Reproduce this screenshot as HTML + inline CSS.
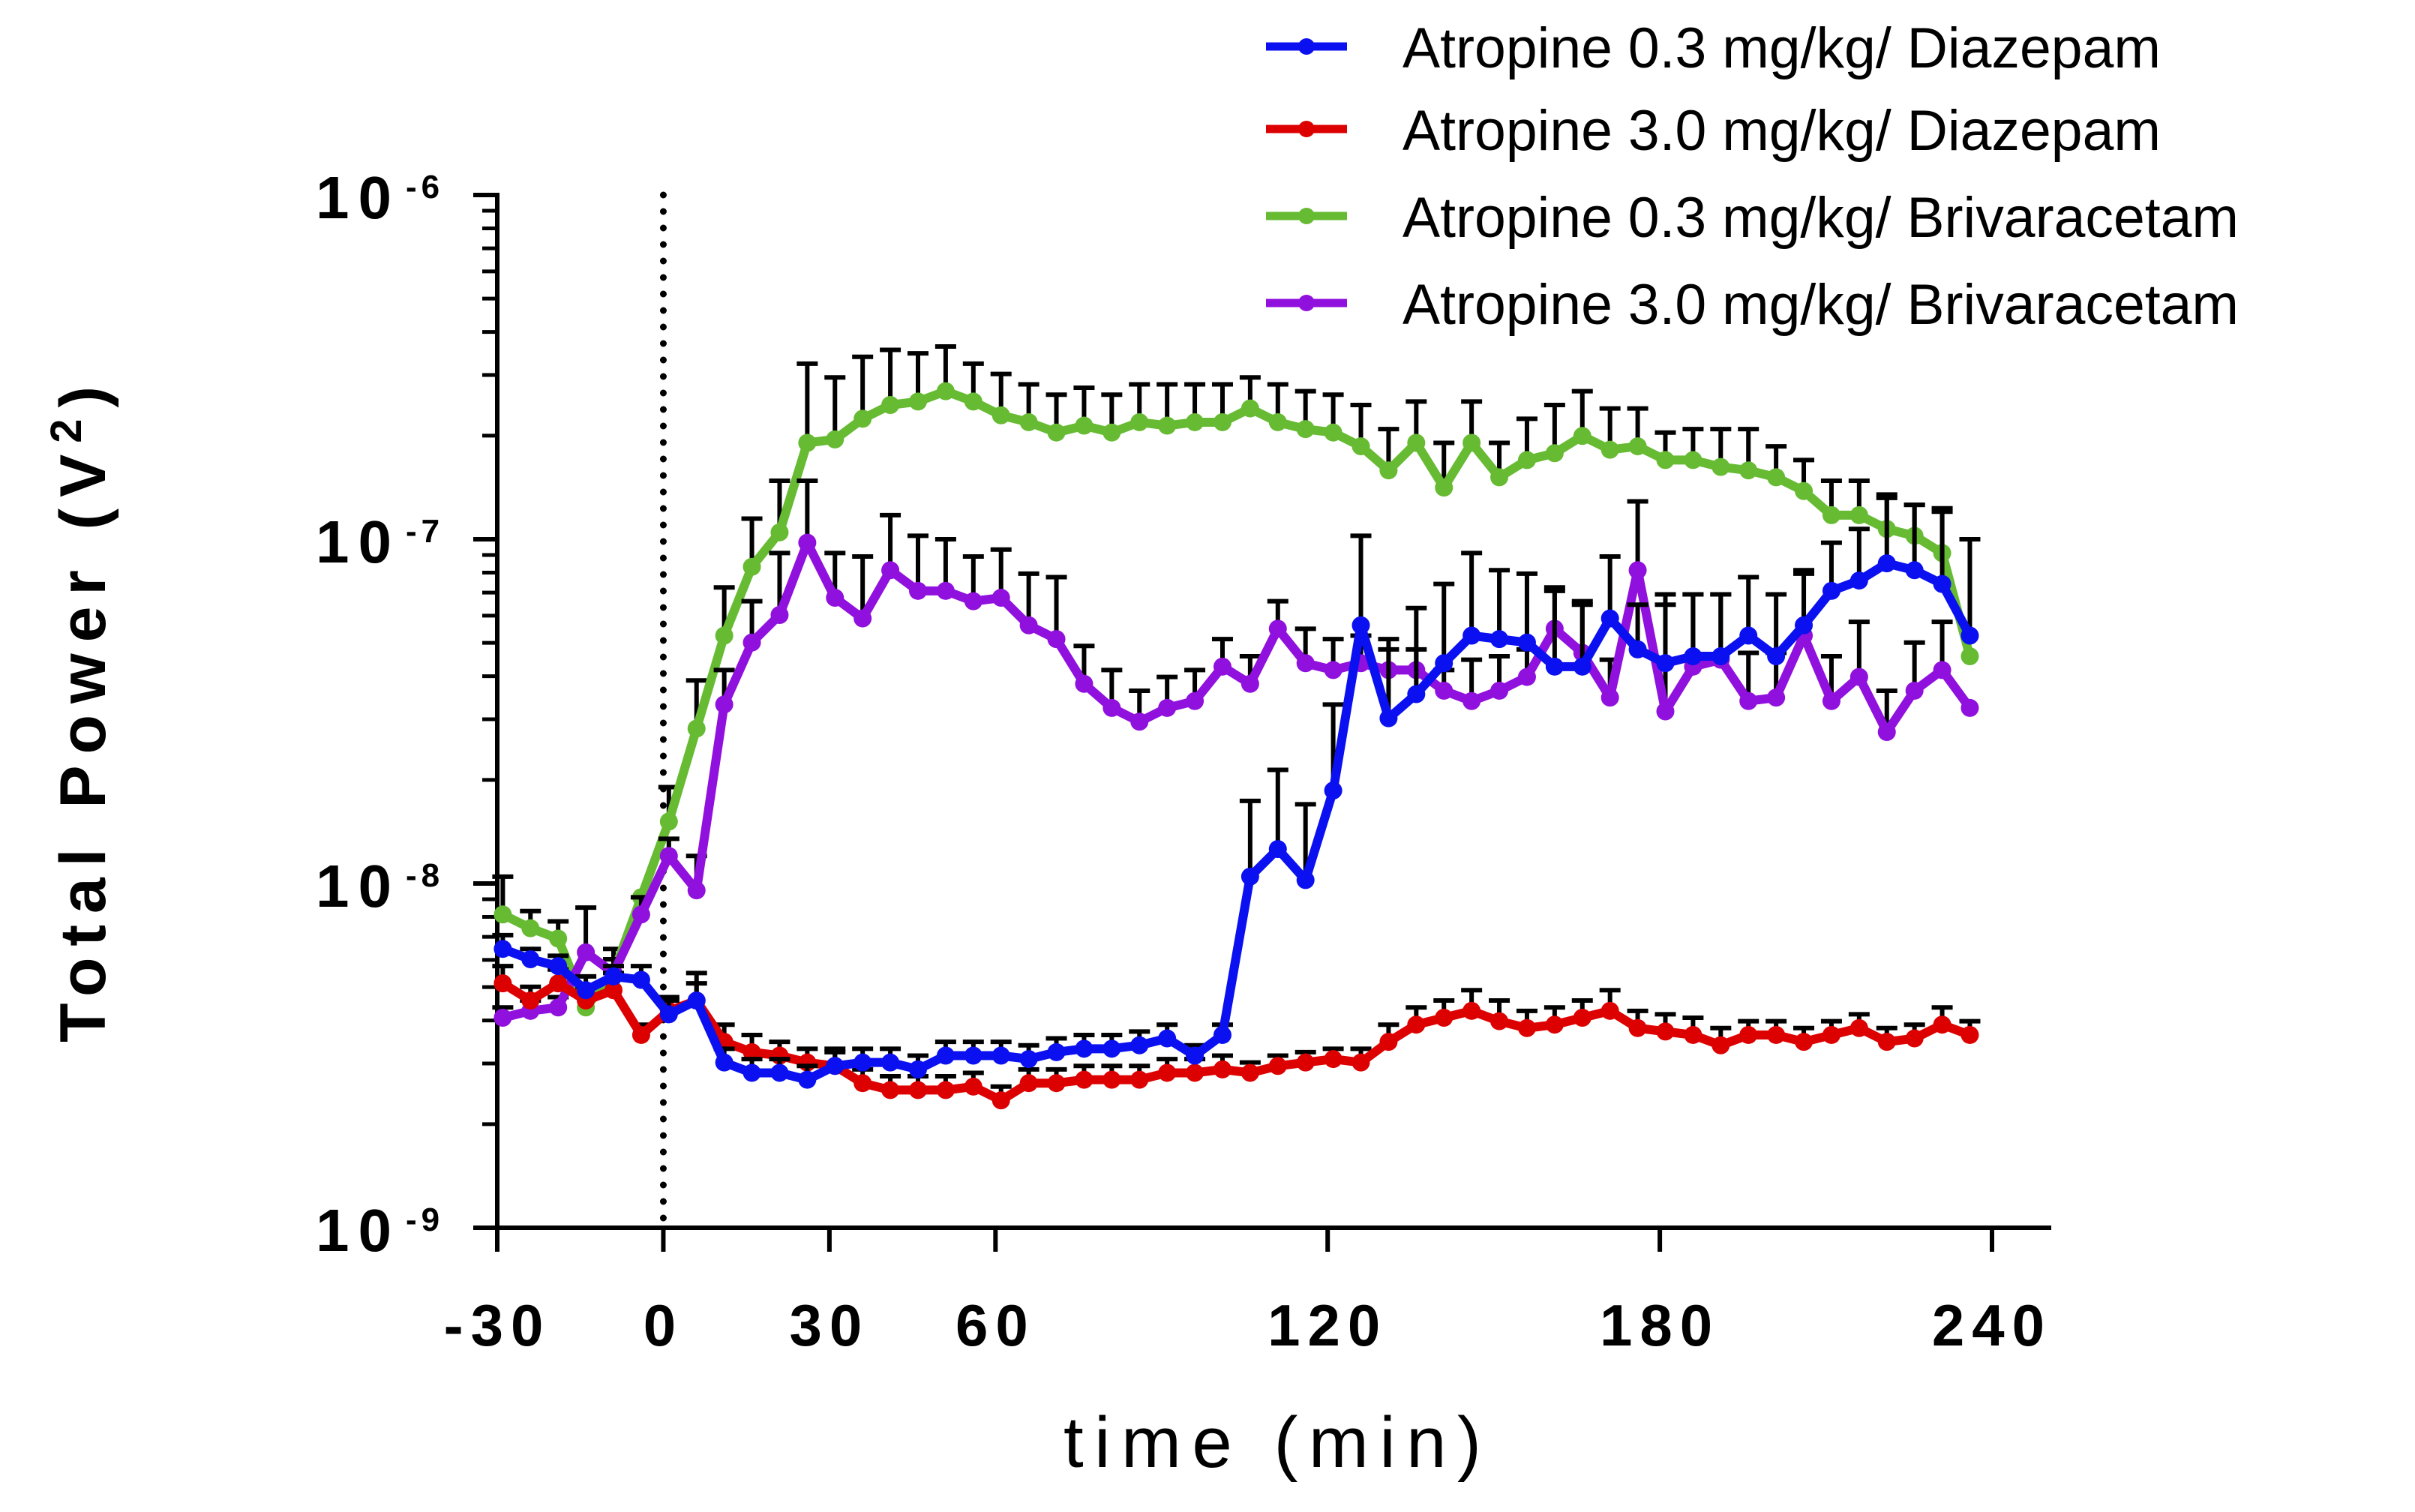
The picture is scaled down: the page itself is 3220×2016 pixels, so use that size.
<!DOCTYPE html>
<html><head><meta charset="utf-8"><style>
html,body{margin:0;padding:0;background:#fff;}
svg{display:block;}
text{font-family:"Liberation Sans",sans-serif;}
</style></head><body>
<svg id="chart" width="3220" height="2016" viewBox="0 0 3220 2016" xmlns="http://www.w3.org/2000/svg">
<rect width="3220" height="2016" fill="#fff"/>
<g id="axes"></g>
<g id="plot"></g>
<g id="legend"></g>
</svg>
<script>
const times = [-29,-24,-19,-14,-9,-4,1,6,11,16,21,26,31,36,41,46,51,56,61,66,71,76,81,86,91,96,101,106,111,116,121,126,131,136,141,146,151,156,161,166,171,176,181,186,191,196,201,206,211,216,221,226,231,236];
const seriesNames = ["Atropine 0.3 mg/kg/ Diazepam","Atropine 3.0 mg/kg/ Diazepam","Atropine 0.3 mg/kg/ Brivaracetam","Atropine 3.0 mg/kg/ Brivaracetam"];
// log10 of total power (V^2)
const blueLog = [-8.19,-8.22,-8.24,-8.31,-8.27,-8.28,-8.38,-8.34,-8.52,-8.55,-8.55,-8.57,-8.53,-8.52,-8.52,-8.54,-8.50,-8.50,-8.50,-8.51,-8.49,-8.48,-8.48,-8.47,-8.45,-8.50,-8.44,-7.98,-7.90,-7.99,-7.73,-7.25,-7.52,-7.45,-7.36,-7.28,-7.29,-7.30,-7.37,-7.37,-7.23,-7.32,-7.36,-7.34,-7.34,-7.28,-7.34,-7.25,-7.15,-7.12,-7.07,-7.09,-7.13,-7.28];
const redLog = [-8.29,-8.34,-8.29,-8.34,-8.31,-8.44,-8.37,-8.34,-8.46,-8.49,-8.50,-8.52,-8.53,-8.58,-8.60,-8.60,-8.60,-8.59,-8.63,-8.58,-8.58,-8.57,-8.57,-8.57,-8.55,-8.55,-8.54,-8.55,-8.53,-8.52,-8.51,-8.52,-8.46,-8.41,-8.39,-8.37,-8.40,-8.42,-8.41,-8.39,-8.37,-8.42,-8.43,-8.44,-8.47,-8.44,-8.44,-8.46,-8.44,-8.42,-8.46,-8.45,-8.41,-8.44];
const greenLog = [-8.09,-8.13,-8.16,-8.36,-8.26,-8.04,-7.82,-7.55,-7.28,-7.08,-6.98,-6.72,-6.71,-6.65,-6.61,-6.60,-6.57,-6.60,-6.64,-6.66,-6.69,-6.67,-6.69,-6.66,-6.67,-6.66,-6.66,-6.62,-6.66,-6.68,-6.69,-6.73,-6.80,-6.72,-6.85,-6.72,-6.82,-6.77,-6.75,-6.70,-6.74,-6.73,-6.77,-6.77,-6.79,-6.80,-6.82,-6.86,-6.93,-6.93,-6.97,-6.99,-7.04,-7.34];
const purpleLog = [-8.39,-8.37,-8.36,-8.20,-8.26,-8.09,-7.92,-8.02,-7.48,-7.30,-7.22,-7.01,-7.17,-7.23,-7.09,-7.15,-7.15,-7.18,-7.17,-7.25,-7.29,-7.42,-7.49,-7.53,-7.49,-7.47,-7.37,-7.42,-7.26,-7.36,-7.38,-7.36,-7.38,-7.38,-7.44,-7.47,-7.44,-7.40,-7.26,-7.33,-7.46,-7.09,-7.50,-7.37,-7.35,-7.47,-7.46,-7.28,-7.47,-7.40,-7.56,-7.44,-7.38,-7.49];
// upper SEM, in log10 units
const blueErr = [0.04,0.03,0.03,0.04,0.03,0.04,0.04,0.05,0.04,0.04,0.04,0.04,0.04,0.04,0.04,0.04,0.04,0.04,0.04,0.04,0.04,0.04,0.04,0.04,0.04,0.03,0.03,0.22,0.23,0.22,0.25,0.26,0.23,0.25,0.23,0.24,0.20,0.20,0.22,0.18,0.18,0.13,0.20,0.18,0.18,0.17,0.18,0.16,0.14,0.15,0.19,0.19,0.22,0.28];
const redErr = [0.05,0.04,0.04,0.04,0.05,0.03,0.04,0.08,0.05,0.05,0.04,0.04,0.05,0.04,0.04,0.04,0.04,0.04,0.04,0.04,0.04,0.04,0.04,0.04,0.04,0.04,0.04,0.03,0.03,0.03,0.03,0.04,0.05,0.05,0.05,0.06,0.06,0.05,0.05,0.05,0.06,0.05,0.05,0.05,0.05,0.04,0.04,0.04,0.04,0.04,0.04,0.04,0.05,0.04];
const greenErr = [0.11,0.05,0.05,0,0.07,0,0.10,0.14,0.14,0.14,0.15,0.23,0.18,0.18,0.16,0.14,0.13,0.11,0.12,0.11,0.11,0.11,0.11,0.11,0.12,0.11,0.11,0.09,0.11,0.11,0.11,0.12,0.12,0.12,0.13,0.12,0.10,0.12,0.14,0.13,0.12,0.11,0.08,0.09,0.11,0.12,0.09,0.09,0.10,0.10,0.10,0.09,0.12,0];
const purpleErr = [0.03,0.03,0.03,0.13,0.04,0.05,0.05,0.10,0.10,0.12,0.18,0.18,0.13,0.18,0.16,0.16,0.15,0.13,0.14,0.15,0.18,0.11,0.11,0.09,0.09,0.09,0.08,0.08,0.08,0.10,0.09,0.08,0.06,0.06,0.06,0.12,0.10,0.08,0.12,0.15,0.11,0.20,0.31,0.21,0.19,0.14,0.13,0.18,0.13,0.16,0.12,0.14,0.14,0];
const xTicks = [-30,0,30,60,120,180,240];
const yTicks = [-9,-8,-7,-6];

const NS = "http://www.w3.org/2000/svg";
const X0 = 663, X1 = 2656, Y0 = 1637, Y1 = 260;
function xs(t){ return X0 + (t + 30) / 270 * (X1 - X0); }
function ys(e){ return Y0 - (e + 9) / 3 * (Y0 - Y1); }
function mk(tag, attrs, parent){ const el = document.createElementNS(NS, tag); for (const k in attrs) el.setAttribute(k, attrs[k]); parent.appendChild(el); return el; }

const axes = document.getElementById('axes');
const plot = document.getElementById('plot');
const legend = document.getElementById('legend');

let yl = mk('line', {x1:X0, y1:Y1-3, x2:X0, y2:Y0+3, stroke:'#000','stroke-width':6}, axes);


let xl = mk('line', {x1:X0-3, y1:Y0, x2:2735, y2:Y0, stroke:'#000','stroke-width':6}, axes);



yTicks.forEach(function(e){
  const y = ys(e);
  const tk = mk('line', {x1:X0-32, y1:y, x2:X0, y2:y, stroke:'#000','stroke-width':6}, axes);
  
  
  const lb = mk('text', {x:421, y:y+31, 'font-size':80, 'font-weight':'bold', 'letter-spacing':12}, axes);
  lb.textContent = '10';
  
  
  const sp = mk('text', {x:541, y:y+4, 'font-size':44, 'font-weight':'bold', 'letter-spacing':6}, axes);
  sp.textContent = String(e);
  
  
  if (e < -6) {
    for (let m = 2; m <= 9; m++) {
      const ym = ys(e + Math.log10(m));
      const mt = mk('line', {x1:X0-20, y1:ym, x2:X0, y2:ym, stroke:'#000','stroke-width':5}, axes);
      
      
    }
  }
});
xTicks.forEach(function(t){
  const x = xs(t);
  const tk = mk('line', {x1:x, y1:Y0, x2:x, y2:Y0+32, stroke:'#000','stroke-width':6}, axes);
  
  
  const lb = mk('text', {x:x, y:1794, 'font-size':78, 'font-weight':'bold', 'letter-spacing':10, 'text-anchor':'middle'}, axes);
  lb.textContent = String(t);
  
  
});
const xt = mk('text', {x:1418, y:1956, 'font-size':96, textLength:557, lengthAdjust:'spacing'}, axes);
xt.textContent = 'time (min)';


const yt = mk('text', {x:0, y:0, 'font-size':86, 'font-weight':'bold', transform:'translate(140,1390) rotate(-90)', textLength:875, lengthAdjust:'spacing'}, axes);
yt.innerHTML = 'Total Power (V<tspan dy="-32" font-size="58">2</tspan><tspan dy="32">)</tspan>';



const dl = mk('line', {x1:xs(0), y1:Y1, x2:xs(0), y2:Y0, stroke:'#000','stroke-width':9,'stroke-linecap':'round','stroke-dasharray':'0 22'}, plot);



const series = [
  {vals:greenLog, err:greenErr, color:'#66bb33', key:'brivaracetam-0-3'},
  {vals:purpleLog, err:purpleErr, color:'#9010dd', key:'brivaracetam-3-0'},
  {vals:redLog, err:redErr, color:'#dd0000', key:'diazepam-3-0'},
  {vals:blueLog, err:blueErr, color:'#0a10f0', key:'diazepam-0-3'}
];
series.forEach(function(s){
  const g = mk('g', {}, plot);
  
  
  s.vals.forEach(function(v, i){
    if (s.err[i] <= 0) return;
    const x = xs(times[i]), ya = ys(v), yb = ys(v + s.err[i]);
    const eb = mk('path', {d:'M'+x+' '+ya+'V'+yb+'M'+(x-14)+' '+yb+'H'+(x+14), stroke:'#000','stroke-width':6, fill:'none'}, g);
    
    
  });
  const pts = s.vals.map(function(v, i){ return xs(times[i]) + ',' + ys(v); }).join(' ');
  const pl = mk('polyline', {points:pts, fill:'none', stroke:s.color, 'stroke-width':12, 'stroke-linejoin':'round'}, g);
  
  
  s.vals.forEach(function(v, i){
    const c = mk('circle', {cx:xs(times[i]), cy:ys(v), r:12, fill:s.color}, g);
    
    
  });
});

const legColors = ['#0a10f0','#dd0000','#66bb33','#9010dd'];
const legY = [62, 172, 288, 404];
const legW = [1011, 1011, 1115, 1115];
seriesNames.forEach(function(n, i){
  const g = mk('g', {}, legend);
  
  
  mk('line', {x1:1688, y1:legY[i], x2:1796, y2:legY[i], stroke:legColors[i], 'stroke-width':11}, g);
  mk('circle', {cx:1742, cy:legY[i], r:11, fill:legColors[i]}, g);
  const t = mk('text', {x:1870, y:legY[i]+28, 'font-size':76, textLength:legW[i], lengthAdjust:'spacingAndGlyphs'}, g);
  t.textContent = n;
  
  
});
</script>
</body></html>
